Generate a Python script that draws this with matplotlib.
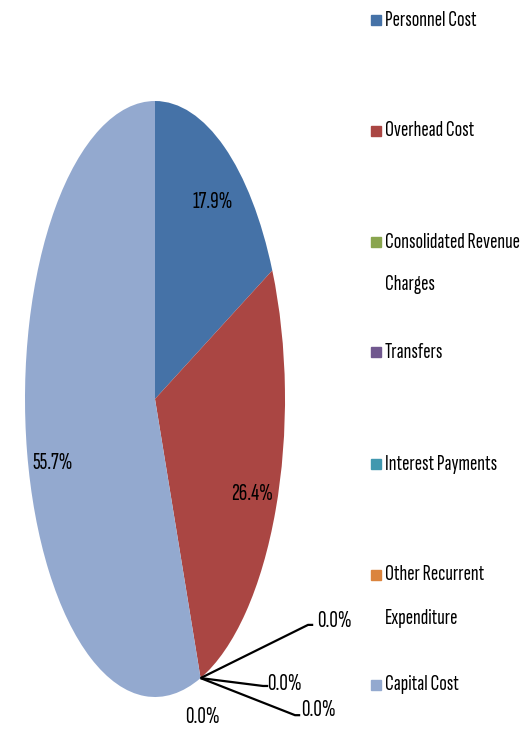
import matplotlib
matplotlib.use("Agg")
import numpy as np
import matplotlib.pyplot as plt
from matplotlib.patches import Rectangle

plt.rcParams['font.family'] = ['Sofia Sans Extra Condensed', 'DejaVu Sans']

# data
categories = ["Personnel Cost", "Overhead Cost", "Consolidated Revenue\nCharges", "Transfers",
              "Interest Payments", "Other Recurrent\nExpenditure", "Capital Cost"]
shares = [17.9, 26.4, 0.0, 0.0, 0.0, 0.0, 55.7]
colors = ["#4572A7", "#AA4643", "#89A54E", "#71588F", "#4198AF", "#DB843D", "#93A9CF"]

W, H = 531, 731
fig = plt.figure(figsize=(W / 100, H / 100), dpi=100)

# pie is drawn stretched (ellipse), so the axes is not square
ax = fig.add_axes([25 / W, 34 / H, 260 / W, 596 / H])
wedges, texts, autotexts = ax.pie(shares, colors=colors, startangle=90, counterclock=False,
                                  autopct=lambda p: "%.1f%%" % p if p > 0.05 else "",
                                  pctdistance=0.8, wedgeprops=dict(linewidth=0),
                                  textprops=dict(fontsize=17, color="black"))
ax.set_aspect("auto")
ax.set_xlim(-1, 1)
ax.set_ylim(-1, 1)

# nudge the big labels to where excel put them
nudge = {0: (0.446, 0.66), 1: (0.746, -0.32), 6: (-0.785, -0.215)}
for i, p in nudge.items():
    autotexts[i].set_position(p)

#labels for the zero slices, with leader lines
zero_idx = [i for i, v in enumerate(shares) if v == 0]
th = np.deg2rad(wedges[zero_idx[0]].theta1)
anchor = (np.cos(th), np.sin(th))
leaders = [((1.177, -0.758), (1.245, -0.745)),
           ((0.831, -0.963), (0.86, -0.955)),
           ((1.077, -1.061), (1.125, -1.045)),
           (None, (0.362, -1.067))]
for i, (elbow, pos) in zip(zero_idx, leaders):
    lab = "%.1f%%" % shares[i]
    if elbow is None:
        ax.text(pos[0], pos[1], lab, ha="center", va="center", fontsize=17)
        continue
    ax.plot([anchor[0], elbow[0], elbow[0] + 0.04], [anchor[1], elbow[1], elbow[1]],
            color="black", lw=1.6, clip_on=False, solid_capstyle="butt")
    ax.text(pos[0], pos[1], lab, ha="left", va="center", fontsize=17)

# legend drawn by hand (square lines up with first line of text)
legend_y = [20, 131, 242, 352, 464, 575, 685]
for lab, col, y in zip(categories, colors, legend_y):
    fig.patches.append(Rectangle((371 / W, 1 - (y + 5) / H), 10 / W, 10 / H,
                                 transform=fig.transFigure, color=col, figure=fig))
    for k, line in enumerate(lab.split("\n")):
        fig.text(385 / W, 1 - (y + 43 * k) / H, line, ha="left", va="center", fontsize=16)

fig.savefig("out.png", dpi=100)
